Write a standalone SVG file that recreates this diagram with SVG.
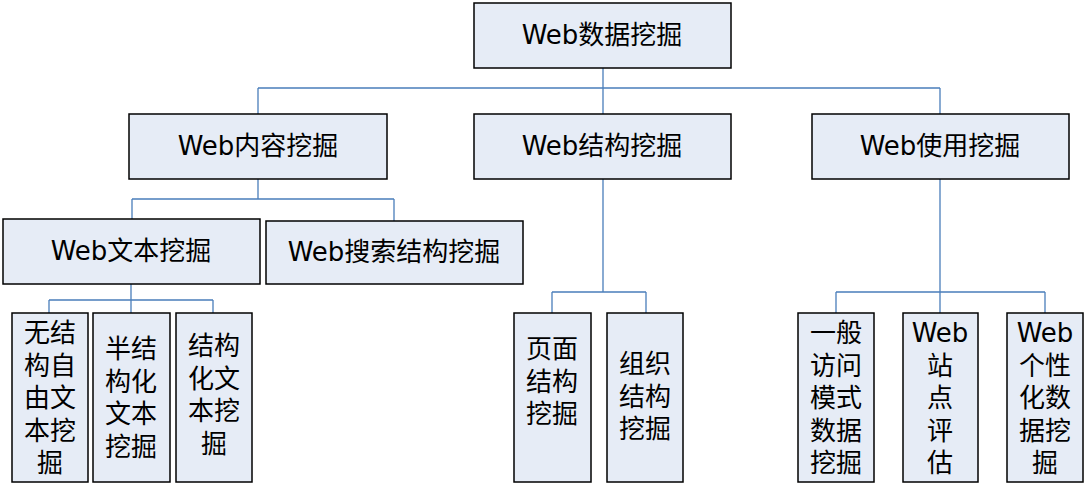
<svg xmlns="http://www.w3.org/2000/svg" width="1086" height="485" viewBox="0 0 1086 485">
<style>
.box{fill:#E6ECF6;stroke:#000;stroke-width:1.5}
.t{font-family:"DejaVu Sans","Noto Sans CJK SC",sans-serif;font-size:26px;fill:#000;text-anchor:middle}
.c{fill:none;stroke:#4A7EBB;stroke-width:1.3}
</style>
<rect width="1086" height="485" fill="#fff"/>
<g id="connectors">
<path class="c" d="M603 68V114M258 88H940M258 88V114M940 88V114"/>
<path class="c" d="M258 179V199M132 199H394M132 199V219M394 199V221"/>
<path class="c" d="M131 284V300M49 300H213M49 300V313M131 300V313M213 300V313"/>
<path class="c" d="M603 179V292M552 292H646M552 292V313M646 292V313"/>
<path class="c" d="M940 179V292M836 292H1045M836 292V313M940 292V313M1045 292V313"/>
</g>
<g id="n-root"><rect class="box" x="474" y="3" width="257" height="65"/><text class="t" x="602" y="44">Web数据挖掘</text></g>
<g id="n-content"><rect class="box" x="129" y="114" width="258" height="65"/><text class="t" x="258" y="155">Web内容挖掘</text></g>
<g id="n-structure"><rect class="box" x="474" y="114" width="257" height="65"/><text class="t" x="602" y="155">Web结构挖掘</text></g>
<g id="n-usage"><rect class="box" x="812" y="114" width="257" height="65"/><text class="t" x="940" y="155">Web使用挖掘</text></g>
<g id="n-text"><rect class="box" x="3" y="219" width="257" height="65"/><text class="t" x="131" y="260">Web文本挖掘</text></g>
<g id="n-search"><rect class="box" x="266" y="221" width="257" height="63"/><text class="t" x="394" y="261">Web搜索结构挖掘</text></g>
<g id="n-free"><rect class="box" x="12" y="313" width="76" height="169"/>
<text class="t"><tspan x="50" y="342">无结</tspan><tspan x="50" y="374.5">构自</tspan><tspan x="50" y="407">由文</tspan><tspan x="50" y="439.5">本挖</tspan><tspan x="50" y="472">掘</tspan></text></g>
<g id="n-semi"><rect class="box" x="93" y="313" width="77" height="169"/>
<text class="t"><tspan x="131" y="358">半结</tspan><tspan x="131" y="390.5">构化</tspan><tspan x="131" y="423">文本</tspan><tspan x="131" y="455.5">挖掘</tspan></text></g>
<g id="n-struct"><rect class="box" x="176" y="313" width="76" height="169"/>
<text class="t"><tspan x="214" y="355">结构</tspan><tspan x="214" y="387.5">化文</tspan><tspan x="214" y="420">本挖</tspan><tspan x="214" y="452.5">掘</tspan></text></g>
<g id="n-page"><rect class="box" x="514" y="313" width="77" height="169"/>
<text class="t"><tspan x="552" y="358">页面</tspan><tspan x="552" y="390.5">结构</tspan><tspan x="552" y="423">挖掘</tspan></text></g>
<g id="n-org"><rect class="box" x="607" y="313" width="76" height="169"/>
<text class="t"><tspan x="645" y="373">组织</tspan><tspan x="645" y="405.5">结构</tspan><tspan x="645" y="438">挖掘</tspan></text></g>
<g id="n-access"><rect class="box" x="798" y="313" width="76" height="169"/>
<text class="t"><tspan x="836" y="342">一般</tspan><tspan x="836" y="374.5">访问</tspan><tspan x="836" y="407">模式</tspan><tspan x="836" y="439.5">数据</tspan><tspan x="836" y="472">挖掘</tspan></text></g>
<g id="n-site"><rect class="box" x="903" y="313" width="75" height="169"/>
<text class="t"><tspan x="940" y="342">Web</tspan><tspan x="940" y="374.5">站</tspan><tspan x="940" y="407">点</tspan><tspan x="940" y="439.5">评</tspan><tspan x="940" y="472">估</tspan></text></g>
<g id="n-personal"><rect class="box" x="1007" y="313" width="76" height="169"/>
<text class="t"><tspan x="1045" y="342">Web</tspan><tspan x="1045" y="374.5">个性</tspan><tspan x="1045" y="407">化数</tspan><tspan x="1045" y="439.5">据挖</tspan><tspan x="1045" y="472">掘</tspan></text></g>
</svg>
